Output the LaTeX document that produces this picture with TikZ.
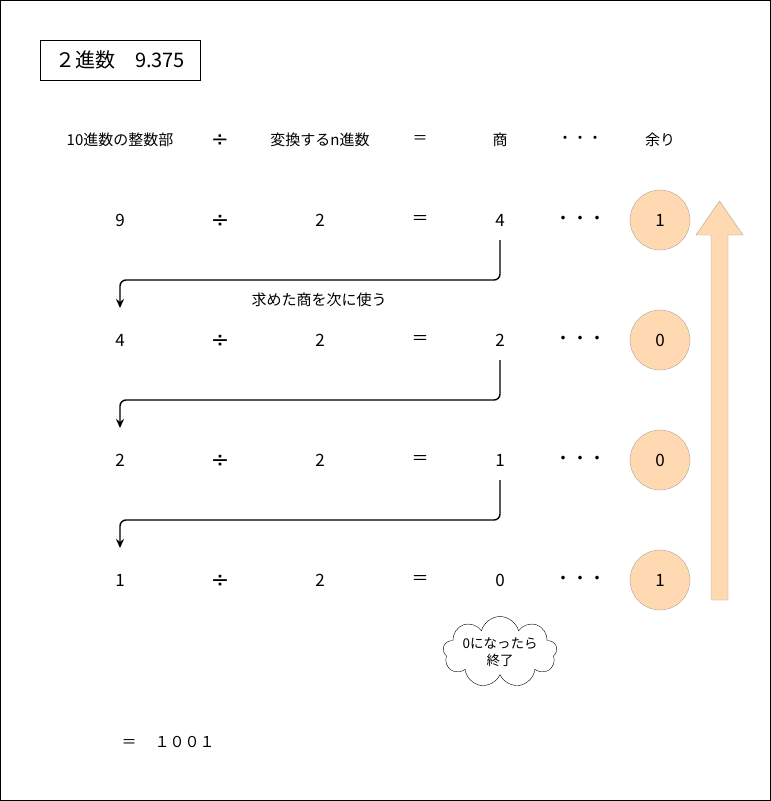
\documentclass[tikz,border=0pt]{standalone}
\usepackage{fontspec}
\setmainfont{Noto Sans CJK JP}
\newfontfamily\divfont{DejaVu Sans}
\usetikzlibrary{shapes.symbols,arrows.meta}

\definecolor{restfill}{HTML}{FFD9B2}
\definecolor{restline}{HTML}{B0A090}

\newcommand{\dv}[1]{{\divfont\fontsize{#1}{#1}\selectfont ÷}}

\begin{document}
\begin{tikzpicture}[x = 1pt, y = -1pt, font = \fontsize{15}{18}\selectfont,
    big/.style = {font = \fontsize{17}{20}\selectfont},
    rest/.style = {shape = circle, draw = restline, fill = restfill, minimum size = 60pt, inner sep = 0pt, big},
    flow/.style = {-{Stealth[length = 9pt, width = 8pt]}, line width = 1.4pt, rounded corners = 6pt}]
    \useasboundingbox (0,0) rectangle (771,801);
    \draw (0.5,0.5) rectangle (770.5,800.5);

    % title
    \node[draw, line width = 1pt, minimum width = 160pt, minimum height = 40pt,
          font = \fontsize{20}{22}\selectfont] (title) at (120,60) {２進数　9.375};

    % header
    \node (hn) at (120,140) {10進数の整数部};
    \node (hd) at (220,141) {\dv{21}};
    \node (hb) at (320,140) {変換するn進数};
    \node (he) at (420,140) {＝};
    \node (hq) at (500,140) {商};
    \node (hp) at (580,140) {・・・};
    \node (hr) at (660,140) {余り};

    % rows
    \foreach \n/\q/\r [count = \k] in {9/4/1, 4/2/0, 2/1/0, 1/0/1} {
        \node[big] (n\k) at (120,100+120*\k) {\n};
        \node[big] (d\k) at (220,101+120*\k) {\dv{22}};
        \node[big] (b\k) at (320,100+120*\k) {2};
        \node[big] (e\k) at (420,100+120*\k) {＝};
        \node[big] (q\k) at (500,100+120*\k) {\q};
        \node[big] (p\k) at (580,100+120*\k) {・・・};
        \node[rest] (r\k) at (660,100+120*\k) {\r};
    }

    % quotient goes to next row
    \foreach \k/\j in {1/2, 2/3, 3/4}
        \draw[flow] ([yshift = -20pt]q\k.center) -- ++(0,40) -| ([yshift = 32pt]n\j.center);
    \node (note) at (319,300) {求めた商を次に使う};

    % read upwards
    \draw[draw = restline, fill = restfill] (711,600) -- (711,235) -- (696,235) -- (719.5,201)
        -- (743,235) -- (728,235) -- (728,600) -- cycle;

    \node[shape = cloud, draw, cloud puffs = 9, aspect = 1.7, minimum width = 114pt,
          minimum height = 71pt, align = center, inner sep = -9pt,
          font = \fontsize{13.5}{17}\selectfont] (stop) at (500,652) {0になったら\\終了};

    \node[anchor = west] (ans) at (118,742) {＝　\hspace{3pt}１００１};
\end{tikzpicture}
\end{document}
